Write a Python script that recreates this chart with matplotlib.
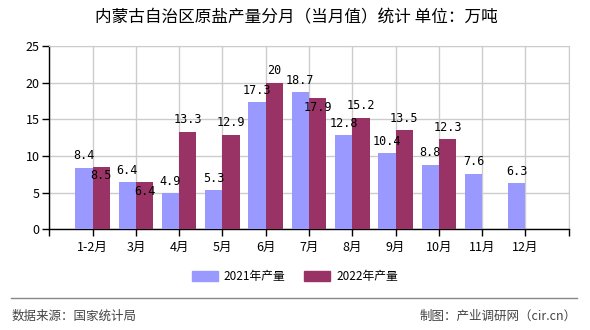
import matplotlib
matplotlib.use('Agg')
import matplotlib.pyplot as plt
from matplotlib.lines import Line2D
import numpy as np

plt.rcParams['font.family'] = ['Noto Sans CJK SC', 'DejaVu Sans']

months = ['1-2月', '3月', '4月', '5月', '6月', '7月', '8月', '9月', '10月', '11月', '12月']
prod_2021 = [8.4, 6.4, 4.9, 5.3, 17.3, 18.7, 12.8, 10.4, 8.8, 7.6, 6.3]
prod_2022 = [8.5, 6.4, 13.3, 12.9, 20, 17.9, 15.2, 13.5, 12.3, None, None]

c21 = '#9999FF'
c22 = '#993366'
w = 0.4

fig = plt.figure(figsize=(5.9, 3.3), dpi=100)
ax = fig.add_axes([0.0836, 0.305, 0.8804, 0.556])

x = np.arange(len(months))
ax.bar(x - w / 2, prod_2021, width=w, color=c21, zorder=3, label='2021年产量')
x22 = [i for i, v in enumerate(prod_2022) if v is not None]
v22 = [v for v in prod_2022 if v is not None]
ax.bar(np.array(x22) + w / 2, v22, width=w, color=c22, zorder=3, label='2022年产量')

lab_font = dict(fontsize=8.5, family=['DejaVu Sans Mono'], ha='center', va='center', zorder=5)
for i, v in enumerate(prod_2021):
    ax.annotate(f'{v:g}', (i - w / 2, v), xytext=(0, 8.5), textcoords='offset points', **lab_font)
for i, v in enumerate(prod_2022):
    if v is None:
        continue
    # close to the 2021 value -> label drawn just inside the bar
    off = -6.5 if abs(v - prod_2021[i]) < 1.5 else 8.5
    ax.annotate(f'{v:g}', (i + w / 2, v), xytext=(0, off), textcoords='offset points', **lab_font)

ax.set_xlim(-1, 11)
ax.set_ylim(0, 25)
ax.set_yticks([0, 5, 10, 15, 20, 25])
ax.set_xticks(np.arange(-1, 12))
ax.set_xticklabels([''] + months + [''], fontsize=9)
ax.tick_params(axis='y', labelsize=9, length=5, width=1, pad=2)
ax.tick_params(axis='x', length=5, width=1, pad=3)
ax.grid(True, color='#CCCCCC', linewidth=1, zorder=0)
ax.set_axisbelow(True)
for s in ['top', 'right']:
    ax.spines[s].set_color('#CCCCCC')
for s in ['left', 'bottom']:
    ax.spines[s].set_color('black')
    ax.spines[s].set_linewidth(1)

fig.text(0.503, 0.945, '内蒙古自治区原盐产量分月（当月值）统计 单位：万吨', ha='center', va='center', fontsize=12)

handles = [plt.Rectangle((0, 0), 1, 1, color=c21), plt.Rectangle((0, 0), 1, 1, color=c22)]
fig.legend(handles, ['2021年产量', '2022年产量'], loc='center', bbox_to_anchor=(0.5, 0.163),
           ncol=2, frameon=False, fontsize=8.5, handlelength=2.2, handleheight=0.9,
           columnspacing=1.6, handletextpad=0.5)

fig.add_artist(Line2D([0.018, 0.978], [0.097, 0.097], color='#888888', linewidth=1, transform=fig.transFigure))
fig.text(0.02, 0.042, '数据来源：国家统计局', ha='left', va='center', fontsize=9, color='#444444')
fig.text(0.978, 0.042, '制图：产业调研网（cir.cn）', ha='right', va='center', fontsize=9, color='#444444')

fig.savefig('out.png', dpi=100)
